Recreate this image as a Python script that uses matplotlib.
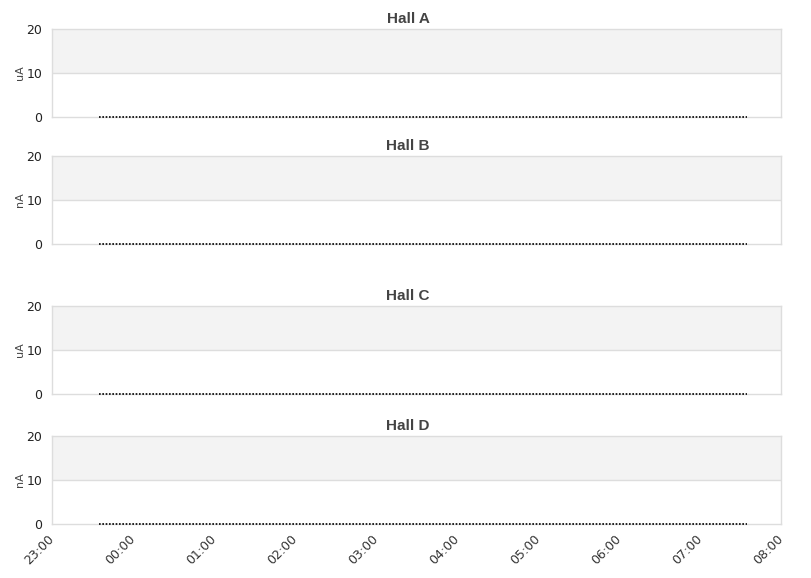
import matplotlib

matplotlib.use("Agg")

import datetime as dt

import matplotlib.dates as mdates
import matplotlib.pyplot as plt
import matplotlib.transforms as mtransforms

HALLS = ["Hall A", "Hall B", "Hall C", "Hall D"]
UNITS = ["uA", "nA", "uA", "nA"]
# beam current readings (all zero over the window)
SAMPLE_TIMES = ["2024-01-01 23:35", "2024-01-02 07:35"]
SAMPLE_VALUES = [0, 0]
Y_TICKS = [0, 10, 20]
X_START = "2024-01-01 23:00"
X_END = "2024-01-02 08:00"

W, H = 811, 578
# panel tops/bottoms in pixels
PANELS = [(29, 117), (156, 244), (306, 394), (436, 524)]
LEFT, RIGHT = 52, 781
TITLE_X = 408
UNIT_X = 25

GRID = "#dddddd"
BAND = "#f3f3f3"


def parse(s):
    return dt.datetime.strptime(s, "%Y-%m-%d %H:%M")


fig = plt.figure(figsize=(W / 100, H / 100), dpi=100)
times = [parse(t) for t in SAMPLE_TIMES]

for i, (name, unit, (top, bottom)) in enumerate(zip(HALLS, UNITS, PANELS)):
    ax = fig.add_axes([LEFT / W, 1 - bottom / H, (RIGHT - LEFT) / W, (bottom - top) / H])
    ax.set_xlim(parse(X_START), parse(X_END))
    ax.set_ylim(Y_TICKS[0], Y_TICKS[-1])
    ax.axhspan(Y_TICKS[1], Y_TICKS[2], color=BAND, zorder=0, lw=0)
    ax.axhline(Y_TICKS[1], color=GRID, lw=1, zorder=1)
    ax.plot(times, SAMPLE_VALUES, color="black", lw=1.2, ls=(0, (1, 1)), zorder=3,
            clip_on=False)
    for sp in ax.spines.values():
        sp.set_color(GRID)
        sp.set_linewidth(1)
    ax.set_yticks(Y_TICKS)
    ax.tick_params(axis="y", length=0, labelsize=9, pad=7, colors="#222222")
    ax.set_ylabel(unit, fontsize=8, color="#444444")
    ax.yaxis.set_label_coords((UNIT_X - LEFT) / (RIGHT - LEFT), 0.5)
    fig.text(TITLE_X / W, 1 - (top - 10) / H, name, ha="center", va="center",
             fontsize=11, fontweight="bold", color="#444444", family="Liberation Sans")
    ax.xaxis.set_major_locator(mdates.HourLocator())
    ax.xaxis.set_major_formatter(mdates.DateFormatter("%H:%M"))
    if i < len(HALLS) - 1:
        ax.tick_params(axis="x", length=0, labelbottom=False)
    else:
        ax.tick_params(axis="x", length=0, labelsize=9, pad=6, colors="#333333")
        offset = mtransforms.ScaledTranslation(-4 / 100, 0, fig.dpi_scale_trans)
        for lab in ax.get_xticklabels():
            lab.set_rotation(45)
            lab.set_ha("right")
            lab.set_rotation_mode("anchor")
            lab.set_transform(lab.get_transform() + offset)

fig.savefig("out.png", dpi=100, facecolor="white")
